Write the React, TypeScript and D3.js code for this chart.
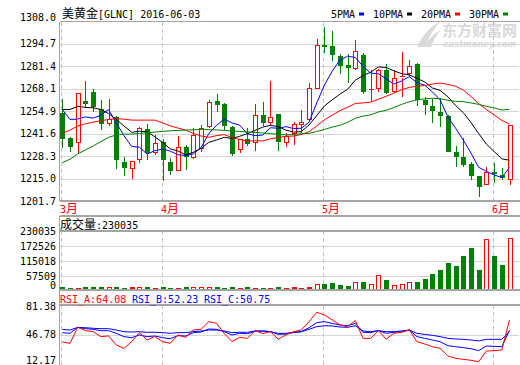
import React from "react";
import * as d3 from "d3";

// ---------- data ----------
const opens = [1253.7, 1238.8, 1235.9, 1260.8, 1266.3, 1256.1, 1247.1, 1251.5, 1224.7, 1220.9, 1226.0, 1244.3, 1230.3, 1236.4, 1224.7, 1219.7, 1233.5, 1227.0, 1232.5, 1245.6, 1260.8, 1259.0, 1245.6, 1231.9, 1238.4, 1235.9, 1252.5, 1247.6, 1253.1, 1236.2, 1241.3, 1246.6, 1249.6, 1268.3, 1294.0, 1293.2, 1287.3, 1282.0, 1279.8, 1288.3, 1267.8, 1268.3, 1279.5, 1266.3, 1274.8, 1276.7, 1283.0, 1261.4, 1257.8, 1254.5, 1252.1, 1230.9, 1227.6, 1223.7, 1216.6, 1211.3, 1219.1, 1217.2, 1214.2];
const highs = [1262.0, 1239.7, 1265.8, 1272.6, 1268.3, 1261.4, 1262.0, 1252.0, 1228.0, 1225.5, 1245.6, 1247.1, 1240.8, 1238.4, 1227.0, 1240.3, 1234.9, 1245.0, 1246.5, 1261.4, 1264.9, 1259.5, 1246.0, 1238.6, 1244.7, 1259.0, 1260.4, 1272.6, 1253.5, 1241.7, 1248.6, 1255.5, 1271.6, 1297.7, 1305.0, 1302.6, 1288.9, 1288.9, 1297.3, 1289.5, 1279.0, 1279.8, 1283.0, 1279.5, 1289.8, 1285.0, 1283.2, 1263.3, 1262.4, 1262.7, 1252.5, 1234.3, 1238.8, 1225.0, 1216.8, 1221.7, 1224.0, 1221.1, 1246.8];
const lows = [1233.1, 1230.9, 1230.3, 1256.5, 1254.5, 1243.7, 1246.0, 1220.7, 1216.8, 1214.6, 1224.0, 1226.0, 1229.0, 1213.8, 1217.0, 1219.5, 1220.1, 1226.5, 1231.0, 1245.0, 1254.5, 1243.7, 1228.4, 1230.0, 1234.5, 1231.5, 1246.0, 1247.0, 1231.5, 1233.9, 1234.9, 1241.7, 1249.0, 1268.0, 1289.5, 1284.5, 1276.7, 1271.8, 1279.5, 1264.9, 1260.4, 1266.3, 1265.0, 1265.7, 1263.3, 1275.1, 1257.8, 1252.5, 1247.6, 1245.6, 1230.5, 1222.1, 1222.1, 1214.2, 1204.0, 1211.0, 1212.3, 1214.0, 1210.9];
const closes = [1238.6, 1233.5, 1265.5, 1259.2, 1257.1, 1247.1, 1250.4, 1225.8, 1221.5, 1225.2, 1244.9, 1230.0, 1235.9, 1226.0, 1219.5, 1233.9, 1228.0, 1240.5, 1245.0, 1260.6, 1258.6, 1246.0, 1229.5, 1238.4, 1235.3, 1252.9, 1247.6, 1251.2, 1236.8, 1240.2, 1247.1, 1248.6, 1268.9, 1294.2, 1292.8, 1288.3, 1281.4, 1280.4, 1290.8, 1266.3, 1268.3, 1279.5, 1265.7, 1274.8, 1275.5, 1281.4, 1261.4, 1258.4, 1255.0, 1252.0, 1230.9, 1228.0, 1223.1, 1216.6, 1209.7, 1218.8, 1217.6, 1215.2, 1246.6];
const volumes = [10000, 6000, 6500, 7000, 7000, 10000, 10500, 7000, 6000, 7500, 10500, 7000, 6000, 10500, 6000, 6500, 7000, 10500, 10000, 10500, 7000, 6000, 9500, 6000, 7000, 6000, 6000, 6000, 9000, 4500, 9000, 4500, 9000, 21000, 23000, 27000, 18000, 13600, 30000, 32000, 21000, 62000, 41000, 17000, 21000, 30000, 32000, 45000, 68000, 86000, 118000, 104000, 150000, 186000, 86000, 225500, 150000, 109000, 230035];

// moving-average values before enough history is on screen
const ma5Head = [1255.9, 1250.0, 1250.2, 1251.5];
const ma10Head = [1255.9, 1255.9, 1257.8, 1257.1, 1256.9, 1255.9, 1253.5, 1250.0, 1246.1];
const ma20Head = [1241.7, 1243.7, 1246.1, 1247.4, 1248.4, 1249.2, 1250.0, 1250.4, 1250.2, 1249.6, 1249.6, 1249.6, 1249.6, 1248.0, 1246.2, 1244.9, 1243.7, 1241.7, 1240.2];
const ma30Head = [1224.4, 1226.4, 1229.6, 1231.9, 1234.3, 1236.8, 1239.4, 1240.8, 1241.3, 1241.3, 1241.7, 1242.1, 1242.5, 1242.9, 1243.3, 1243.5, 1243.7, 1243.9, 1244.1, 1244.0, 1243.8, 1243.5, 1243.2, 1242.9, 1242.6, 1242.3, 1242.0, 1241.6, 1241.2];

const rsiA = [38.7, 37.2, 55.6, 51.8, 50.7, 44.9, 45.7, 35.3, 31.4, 39.1, 49.5, 41.0, 44.9, 39.1, 37.2, 46.8, 44.1, 52.6, 53.4, 62.2, 60.3, 48.7, 39.1, 44.1, 42.9, 51.8, 48.5, 50.5, 42.0, 46.8, 50.6, 52.6, 62.2, 73.0, 69.9, 64.2, 58.4, 56.4, 63.4, 42.9, 42.9, 51.8, 42.0, 48.7, 49.9, 52.6, 39.1, 36.4, 33.3, 31.4, 22.6, 19.9, 18.7, 17.6, 16.0, 28.3, 28.7, 29.5, 64.08];
const rsiB = [49.5, 48.7, 55.6, 54.1, 53.3, 51.8, 51.8, 48.7, 44.9, 43.7, 46.8, 44.9, 45.6, 43.7, 42.5, 46.0, 45.6, 49.5, 50.2, 53.7, 53.3, 50.6, 46.8, 48.7, 48.3, 51.0, 51.4, 50.6, 47.5, 47.9, 49.5, 50.6, 55.2, 61.0, 62.2, 60.2, 58.3, 57.5, 60.2, 49.9, 49.5, 51.8, 48.7, 49.9, 50.6, 52.5, 44.9, 42.9, 41.0, 39.1, 34.5, 33.3, 32.2, 31.0, 28.7, 34.1, 33.7, 33.3, 52.23];
const rsiC = [53.3, 52.5, 55.6, 55.2, 54.5, 54.1, 54.1, 52.5, 50.6, 50.2, 50.6, 49.9, 49.9, 49.5, 48.7, 49.5, 49.5, 50.6, 51.4, 52.5, 52.5, 51.4, 49.5, 49.9, 49.9, 51.4, 51.4, 50.6, 48.7, 48.7, 49.9, 50.6, 53.3, 56.4, 57.5, 57.2, 56.0, 55.6, 57.5, 51.4, 50.6, 51.8, 50.6, 50.6, 51.4, 52.5, 48.7, 47.5, 46.4, 44.9, 42.9, 42.2, 41.8, 41.0, 39.9, 41.8, 41.8, 41.8, 50.75];

const priceTicks = [1201.7, 1215.0, 1228.3, 1241.6, 1254.9, 1268.1, 1281.4, 1294.7, 1308.0];
const volumeTicks = [0, 57509, 115018, 172526, 230035];
const rsiTicks = [12.17, 46.78, 81.38];
const monthIdx = [0, 13, 34, 56];
const monthLabels = ["3月", "4月", "5月", "6月"];
const title = "美黄金[GLNC] 2016-06-03";
const maNames = ["5PMA", "10PMA", "20PMA", "30PMA"];

// ---------- styling ----------
const RED = "#ff0000";
const GREEN = "#008000";
const BLUE = "#0000ff";
const FRAME = "#a4a4a4";
const GRID = "#d6d6d6";
const MONO = "'DejaVu Sans Mono', monospace";
const CJK = "'Noto Sans CJK SC', sans-serif";

function Mixed({ x, y, text, fill = "#000", anchor = "start" }: any) {
  const runs: string[] = text.match(/[\u3000-\u9fff\uff00-\uffef]+|[^\u3000-\u9fff\uff00-\uffef]+/g) || [];
  return (
    <text x={x} y={y} fill={fill} textAnchor={anchor} style={{ whiteSpace: "pre" }}>
      {runs.map((r, k) =>
        /[\u3000-\u9fff\uff00-\uffef]/.test(r) ? (
          <tspan key={k} fontFamily={CJK} fontSize={12}>{r}</tspan>
        ) : (
          <tspan key={k} fontFamily={MONO} fontSize={10}>{r}</tspan>
        )
      )}
    </text>
  );
}

export default function App() {
  const n = closes.length;
  const L = 59.5, R = 519;
  const x = d3.scaleLinear().domain([0, n - 1]).range([62.3, 509.5]);
  const yP = d3.scaleLinear().domain([1201.7, 1308.0]).range([201, 21.5]);
  const yVGrid = d3.scaleLinear().domain([0, 230035]).range([291.3, 231]);
  const yVBar = d3.scaleLinear().domain([0, d3.max(volumes) as number]).range([289, 238.3]);
  const yR = d3.scaleLinear().domain([12.17, 81.38]).range([365, 305]);

  const ma = (p: number, head: number[]) =>
    closes.map((_, i) => (i < p - 1 ? head[i] : (d3.mean(closes.slice(i - p + 1, i + 1)) as number)));
  const mas = [
    { v: ma(5, ma5Head), c: BLUE },
    { v: ma(10, ma10Head), c: "#000" },
    { v: ma(20, ma20Head), c: RED },
    { v: ma(30, ma30Head), c: GREEN },
  ];
  const priceLine = d3.line<number>().x((_, i) => x(i)).y((v) => yP(v));
  const rsiLine = d3.line<number>().x((_, i) => x(i)).y((v) => yR(v));

  const up = (i: number) => closes[i] >= opens[i];

  const legendPos = [
    { tx: 331, sx: 359 },
    { tx: 373, sx: 407 },
    { tx: 421, sx: 455 },
    { tx: 469, sx: 503 },
  ];

  return (
    <svg
      width={520}
      height={365}
      style={{ position: "absolute", left: 0, top: 0, background: "#fff", display: "block" }}
    >
      <defs>
        <clipPath id="clipMain"><rect x={L} y={21.5} width={R - L} height={179.5} /></clipPath>
        <clipPath id="clipVol"><rect x={L} y={231} width={R - L} height={58} /></clipPath>
        <clipPath id="clipRsi"><rect x={L} y={305.5} width={R - L} height={60} /></clipPath>
      </defs>

      {/* watermark */}
      <g fill="#d9d9d9" stroke="none">
        <path d="M417,47 C421,38 428,28 441,21 C433,30 428,38 425,47 Z" />
        <path d="M424,47 C428,40 433,34 441,30 C436,36 433,41 431,47 Z" />
        <text x={442} y={36} fontFamily={CJK} fontSize={14.5} fontWeight="bold" textLength={75} lengthAdjust="spacingAndGlyphs">东方财富网</text>
        <text x={443} y={47} fontFamily="'DejaVu Sans', sans-serif" fontSize={8.5} fontWeight="bold" fontStyle="italic" textLength={73} lengthAdjust="spacingAndGlyphs">eastmoney.com</text>
      </g>

      {/* title + legend */}
      <Mixed x={62} y={18} text={title} />
      {maNames.map((nm, k) => (
        <g key={nm}>
          <text x={legendPos[k].tx} y={18} fontFamily={MONO} fontSize={10} fill="#000">{nm}</text>
          <rect x={legendPos[k].sx} y={12.5} width={5} height={3} fill={mas[k].c} />
        </g>
      ))}

      {/* main grid */}
      <g shapeRendering="crispEdges">
        {priceTicks.slice(1, -1).map((t) => (
          <line key={t} x1={L} x2={R} y1={Math.round(yP(t)) + 0.5} y2={Math.round(yP(t)) + 0.5} stroke={GRID} />
        ))}
        <line x1={L} x2={R} y1={yVGrid(57509)} y2={yVGrid(57509)} stroke={GRID} />
        <line x1={L} x2={R} y1={yVGrid(115018)} y2={yVGrid(115018)} stroke={GRID} />
        <line x1={L} x2={R} y1={yVGrid(172526)} y2={yVGrid(172526)} stroke={GRID} />
        <line x1={L} x2={R} y1={Math.round(yR(46.78)) + 0.5} y2={Math.round(yR(46.78)) + 0.5} stroke={GRID} />
        {monthIdx.map((mi) => {
          const mx = Math.round(x(mi)) - 0.5;
          return (
            <g key={mi} stroke="#c4c4c4" strokeDasharray="4,3">
              <line x1={mx} x2={mx} y1={22} y2={201} />
              <line x1={mx} x2={mx} y1={231} y2={290} />
              <line x1={mx} x2={mx} y1={305} y2={365} />
            </g>
          );
        })}
      </g>

      {/* y labels */}
      <g fontFamily={MONO} fontSize={10} fill="#000" textAnchor="end">
        {priceTicks.map((t, k) => (
          <text key={t} x={56} y={(k === priceTicks.length - 1 ? 17.5 : yP(t)) + 3.5}>{t.toFixed(1)}</text>
        ))}
        {volumeTicks.map((t, k) => (
          <text key={t} x={56} y={(k === 0 ? 285.7 : yVGrid(t)) + 3.5}>{t}</text>
        ))}
        {rsiTicks.map((t, k) => (
          <text key={t} x={56} y={(k === 0 ? 360.5 : k === 2 ? 306 : yR(t)) + 3.5}>{t.toFixed(2)}</text>
        ))}
      </g>

      {/* candles */}
      <g clipPath="url(#clipMain)" shapeRendering="crispEdges">
        {closes.map((c, i) => {
          const cx = Math.round(x(i));
          const o = opens[i];
          const top = yP(Math.max(o, c));
          const bot = yP(Math.min(o, c));
          if (up(i)) {
            const h = Math.max(1, bot - top);
            return (
              <g key={i}>
                <line x1={cx + 0.5} x2={cx + 0.5} y1={yP(highs[i])} y2={top} stroke={RED} />
                <line x1={cx + 0.5} x2={cx + 0.5} y1={bot} y2={yP(lows[i])} stroke={RED} />
                {h <= 1.5 ? (
                  <rect x={cx - 2} y={top} width={5} height={1} fill={RED} />
                ) : (
                  <rect x={cx - 1.5} y={top + 0.5} width={4} height={h - 1} fill="#fff" stroke={RED} />
                )}
              </g>
            );
          }
          return (
            <g key={i}>
              <line x1={cx + 0.5} x2={cx + 0.5} y1={yP(highs[i])} y2={yP(lows[i])} stroke={GREEN} />
              <rect x={cx - 2} y={top} width={5} height={Math.max(1, bot - top)} fill={GREEN} />
            </g>
          );
        })}
      </g>

      {/* moving averages */}
      <g clipPath="url(#clipMain)" fill="none" strokeWidth={1}>
        {mas.map((m, k) => (
          <path key={k} d={priceLine(m.v) as string} stroke={m.c} />
        ))}
      </g>

      {/* volume */}
      <g clipPath="url(#clipVol)" shapeRendering="crispEdges">
        {volumes.map((v, i) => {
          const cx = Math.round(x(i));
          const top = yVBar(v);
          const h = 289 - top;
          if (up(i)) {
            return h > 2 ? (
              <rect key={i} x={cx - 1.5} y={top + 0.5} width={4} height={h} fill="#fff" stroke={RED} />
            ) : (
              <rect key={i} x={cx - 2} y={top} width={5} height={h} fill={RED} />
            );
          }
          return <rect key={i} x={cx - 2} y={top} width={5} height={h} fill={GREEN} />;
        })}
      </g>

      {/* RSI */}
      <g clipPath="url(#clipRsi)" fill="none">
        <path d={rsiLine(rsiC) as string} stroke={BLUE} />
        <path d={rsiLine(rsiB) as string} stroke={BLUE} />
        <path d={rsiLine(rsiA) as string} stroke={RED} />
      </g>

      {/* frames */}
      <g stroke={FRAME} shapeRendering="crispEdges" strokeWidth={1.5}>
        <line x1={L} x2={R + 1} y1={21.5} y2={21.5} />
        <line x1={L} x2={R + 1} y1={201} y2={201} />
        <line x1={L} x2={R + 1} y1={216} y2={216} />
        <line x1={L} x2={R + 1} y1={231} y2={231} />
        <line x1={L} x2={R + 1} y1={290} y2={290} />
        <line x1={L} x2={R + 1} y1={305} y2={305} />
        <line x1={L} x2={L} y1={21.5} y2={201} />
        <line x1={L} x2={L} y1={216} y2={365} />
      </g>

      {/* month labels */}
      {monthIdx.map((mi, k) => (
        <Mixed key={mi} x={Math.round(x(mi)) - 2} y={213} text={monthLabels[k]} fill={RED} />
      ))}

      {/* panel headers */}
      <Mixed x={60} y={229} text={`成交量:${volumes[n - 1]}`} />
      <g fontFamily={MONO} fontSize={10}>
        <text x={60} y={303} fill={RED}>{`RSI_A:${rsiA[n - 1].toFixed(2)}`}</text>
        <text x={132} y={303} fill={BLUE}>{`RSI_B:${rsiB[n - 1].toFixed(2)}`}</text>
        <text x={204} y={303} fill={BLUE}>{`RSI_C:${rsiC[n - 1].toFixed(2)}`}</text>
      </g>
    </svg>
  );
}
